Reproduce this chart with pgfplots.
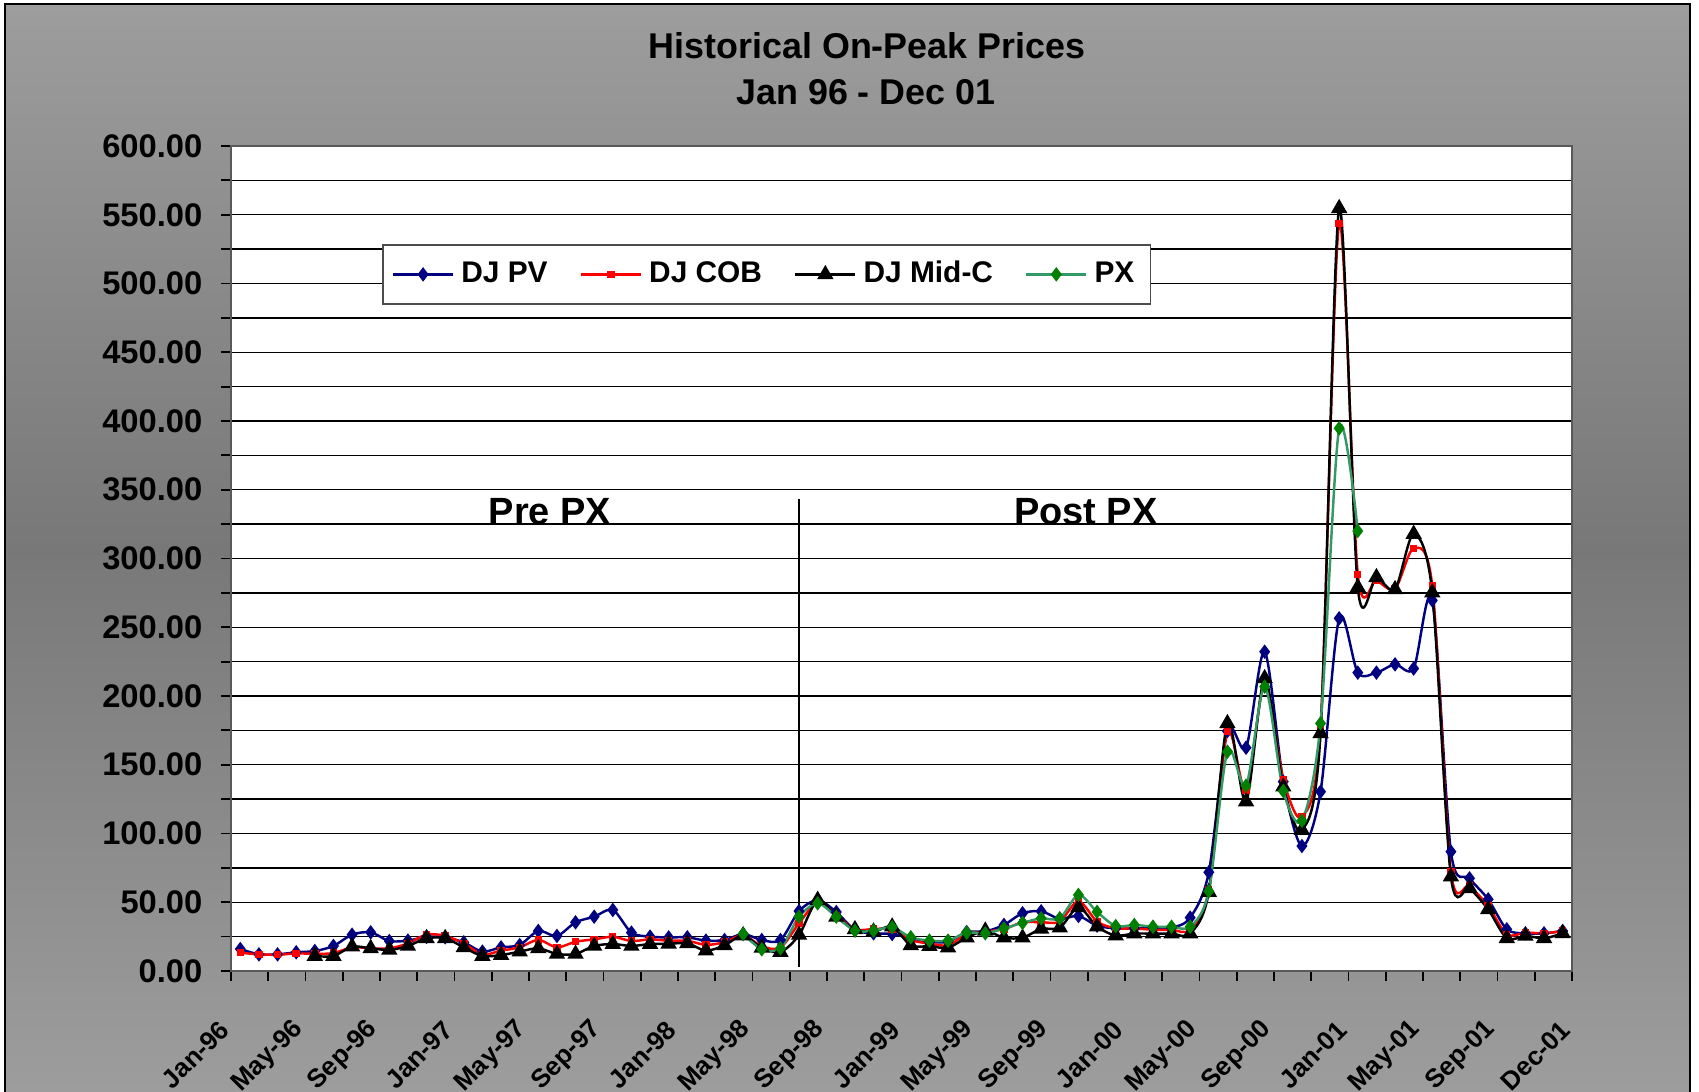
\documentclass[border=0pt]{standalone}
\usepackage{pgfplots}
\pgfplotsset{compat=1.18}
\usepackage{fontspec}
\setmainfont{Liberation Sans}
\definecolor{bgl}{RGB}{194,194,194}
\definecolor{bgd}{RGB}{120,120,120}
\definecolor{pvblue}{RGB}{0,0,128}
\definecolor{pxline}{RGB}{51,153,102}
\definecolor{pxmark}{RGB}{0,128,0}
\pgfdeclareverticalshading{bgshade}{100bp}{color(0bp)=(bgl); color(50bp)=(bgd); color(100bp)=(bgl)}
\begin{document}
\begin{tikzpicture}[x=1cm,y=1cm]
\path[use as bounding box] (0,0) rectangle (16.99,-10.92);
\shade[shading=bgshade] (0.05,-0.04) rectangle (16.90,-10.92);
\draw[black, line width=0.8pt] (0.05,-10.92) -- (0.05,-0.04) -- (16.90,-0.04) -- (16.90,-10.92);
\node[font=\bfseries\fontsize{10.2}{12}\selectfont] at (8.67,-0.46) {Historical On-Peak Prices};
\node[font=\bfseries\fontsize{10.2}{12}\selectfont] at (8.66,-0.92) {Jan 96 - Dec 01};
\begin{axis}[
  at={(2.31cm,-9.71cm)}, anchor=south west,
  width=13.41cm, height=8.25cm, scale only axis,
  xmin=-0.5, xmax=71.5, ymin=0, ymax=600,
  axis background/.style={fill=white},
  axis line style={draw=gray!70!black, line width=0.8pt},
  tick pos=left, tick align=outside,
  major tick length=0.1cm, minor tick length=0.1cm,
  tick style={black, line width=0.5pt},
  ytick={0,50,...,600}, minor ytick={25,75,...,575},
  ymajorgrids, yminorgrids,
  major grid style={black, line width=0.4pt},
  minor grid style={black, line width=0.4pt},
  xtick={-0.5,3.5,...,71.5}, minor xtick={1.5,5.5,...,69.5},
  xticklabels={Jan-96,May-96,Sep-96,Jan-97,May-97,Sep-97,Jan-98,May-98,Sep-98,Jan-99,May-99,Sep-99,Jan-00,May-00,Sep-00,Jan-01,May-01,Sep-01,Dec-01},
  /pgf/number format/assume math mode=true,
  yticklabel style={font=\bfseries\fontsize{9.3}{11}\selectfont, /pgf/number format/fixed, /pgf/number format/fixed zerofill, /pgf/number format/precision=2, anchor=east, inner sep=0pt, xshift=-0.18cm},
  xticklabel style={font=\bfseries\fontsize{7.4}{9}\selectfont, yshift=-0.44cm, xshift=-0.06cm, rotate=45, anchor=east, inner sep=0pt},
  legend columns=4,
  legend style={at={(0.1126,0.8812)}, anchor=north west, draw=gray!60!black, fill=white, line width=0.5pt,
    font=\bfseries\fontsize{8.5}{10}\selectfont, inner xsep=0.09cm, inner ysep=0.09cm,
    /tikz/every even column/.append style={column sep=0.25cm}},
]
\addplot[pvblue, line width=0.7pt, smooth, mark=diamond*, mark size=1.5pt] coordinates {
(0,16.0)(1,12.1)(2,12.1)(3,13.6)(4,14.5)(5,18.2)(6,26.4)(7,28.1)(8,21.8)(9,22.1)(10,24.8)(11,24.5)
(12,20.8)(13,14.1)(14,17.2)(15,18.9)(16,29.1)(17,25.5)(18,35.4)(19,39.5)(20,44.4)(21,27.9)(22,25.0)(23,24.4)
(24,24.5)(25,22.1)(26,22.5)(27,26.9)(28,22.5)(29,22.5)(30,43.6)(31,51.5)(32,42.9)(33,29.8)(34,27.4)(35,26.9)
(36,23.8)(37,21.3)(38,21.3)(39,28.3)(40,28.8)(41,33.5)(42,42.0)(43,43.4)(44,38.0)(45,40.0)(46,33.0)(47,31.0)
(48,31.0)(49,31.5)(50,31.5)(51,38.8)(52,71.8)(53,174.5)(54,162.4)(55,232.2)(56,137.7)(57,90.9)(58,130.4)(59,256.5)
(60,217.0)(61,217.0)(62,223.0)(63,220.0)(64,269.5)(65,86.8)(66,67.4)(67,52.1)(68,30.3)(69,27.4)(70,27.4)(71,29.1)};
\addlegendentry{DJ PV}
\addplot[red, line width=0.7pt, smooth, mark=square*, mark size=0.7pt] coordinates {
(0,13.3)(1,12.1)(2,11.8)(3,12.8)(4,12.5)(5,13.0)(6,17.2)(7,16.5)(8,16.5)(9,20.0)(10,26.5)(11,25.5)
(12,20.0)(13,12.0)(14,14.8)(15,17.2)(16,22.6)(17,17.2)(18,21.3)(19,23.0)(20,24.9)(21,21.8)(22,23.0)(23,22.0)
(24,22.0)(25,19.0)(26,21.0)(27,26.0)(28,18.0)(29,17.0)(30,34.7)(31,50.0)(32,40.5)(33,30.3)(34,30.5)(35,30.5)
(36,22.5)(37,20.0)(38,18.7)(39,26.7)(40,28.6)(41,30.5)(42,35.4)(43,35.5)(44,36.0)(45,50.8)(46,36.0)(47,31.0)
(48,31.0)(49,30.0)(50,30.0)(51,30.0)(52,59.0)(53,174.0)(54,131.4)(55,209.2)(56,139.4)(57,112.2)(58,177.0)(59,543.8)
(60,288.5)(61,284.0)(62,278.0)(63,307.4)(64,280.0)(65,72.2)(66,61.8)(67,47.2)(68,26.6)(69,27.9)(70,27.4)(71,29.1)};
\addlegendentry{DJ COB}
\addplot[black, line width=0.7pt, smooth, mark=triangle*, mark size=2pt] coordinates {
(4,10.9)(5,10.9)(6,17.7)(7,16.5)(8,15.3)(9,18.2)(10,23.8)(11,23.8)
(12,17.2)(13,10.9)(14,11.6)(15,14.1)(16,16.5)(17,12.4)(18,12.4)(19,18.2)(20,19.6)(21,18.2)(22,19.6)(23,19.8)
(24,20.1)(25,14.8)(26,18.7)(27,25.8)(28,16.9)(29,13.8)(30,26.2)(31,51.6)(32,39.3)(33,30.3)(34,28.6)(35,32.2)
(36,18.7)(37,18.0)(38,17.0)(39,24.2)(40,29.2)(41,24.2)(42,24.2)(43,30.6)(44,31.5)(45,46.2)(46,32.3)(47,25.8)
(48,27.2)(49,27.2)(50,27.2)(51,27.2)(52,57.4)(53,180.1)(54,123.2)(55,212.8)(56,134.0)(57,102.5)(58,172.8)(59,554.7)
(60,279.0)(61,286.3)(62,277.6)(63,317.8)(64,275.2)(65,68.6)(66,60.1)(67,44.8)(68,23.8)(69,25.5)(70,23.8)(71,27.4)};
\addlegendentry{DJ Mid-C}
\addplot[pxline, line width=0.7pt, smooth, mark=diamond*, mark size=1.5pt, mark options={draw=pxmark, fill=pxmark}] coordinates {
(27,26.9)(28,15.8)(29,16.5)(30,39.5)(31,49.2)(32,39.5)(33,29.3)(34,29.3)(35,31.8)
(36,24.5)(37,22.1)(38,22.1)(39,27.9)(40,27.4)(41,30.9)(42,35.0)(43,38.3)(44,38.3)(45,55.3)(46,43.0)(47,32.7)
(48,33.5)(49,32.2)(50,32.2)(51,32.2)(52,58.0)(53,159.5)(54,134.8)(55,206.8)(56,130.9)(57,109.3)(58,180.1)(59,394.7)
(60,320.0)};
\addlegendentry{PX}
\addplot[black, line width=0.6pt, forget plot] coordinates {(30,3) (30,343)};
\node[font=\bfseries\fontsize{10.8}{13}\selectfont] at (axis cs:16.63,334) {Pre PX};
\node[font=\bfseries\fontsize{10.8}{13}\selectfont] at (axis cs:45.4,334) {Post PX};
\end{axis}
\end{tikzpicture}
\end{document}
